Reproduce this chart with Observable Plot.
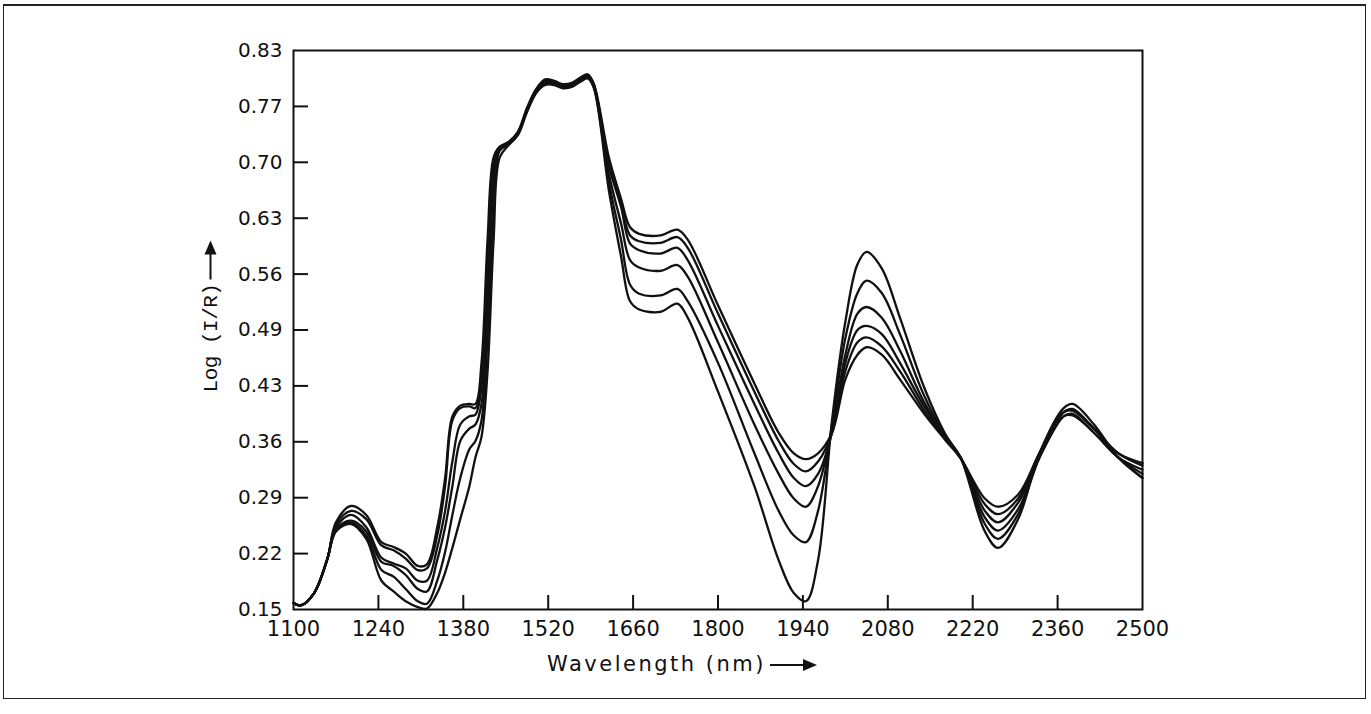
<!DOCTYPE html>
<html><head><meta charset="utf-8">
<script src="https://cdn.jsdelivr.net/npm/d3@7"></script>
<script src="https://cdn.jsdelivr.net/npm/@observablehq/plot@0.6"></script>
<style>
html,body{margin:0;padding:0;background:#fff;}
#wrap{position:relative;width:1371px;height:714px;overflow:hidden;background:#fff;}
#border{position:absolute;left:3px;top:4px;width:1361px;height:692px;border:1.5px solid #222;border-top-width:2.5px;}
#chart{position:absolute;left:0;top:0;}
.lab{position:absolute;color:#111;white-space:nowrap;}
#ylab{left:211px;top:318px;transform:translate(-50%,-50%) rotate(-90deg);font-family:"Liberation Mono",monospace;font-size:21px;letter-spacing:-0.5px;}
#xlab{left:547px;top:664px;transform:translateY(-50%);font-family:"DejaVu Sans",sans-serif;font-size:21px;letter-spacing:2.5px;}
.arrow{display:inline-block;height:2px;background:#111;vertical-align:middle;margin-left:4px;position:relative;}
#ylab .arrow{width:36px;}
#xlab .arrow{width:44px;}
.arrow::after{content:"";position:absolute;right:-3px;top:-5px;border-left:14px solid #111;border-top:6px solid transparent;border-bottom:6px solid transparent;}
</style></head><body>
<div id="wrap">
<div id="border"></div>
<div id="chart"></div>
<div class="lab" id="ylab">Log (I/R)<span class="arrow"></span></div>
<div class="lab" id="xlab">Wavelength (nm)<span class="arrow"></span></div>
</div>
<script>
const xTicks = [1100,1240,1380,1520,1660,1800,1940,2080,2220,2360,2500];
const yTicks = [0.15,0.218,0.286,0.354,0.422,0.49,0.558,0.626,0.694,0.762,0.83];
const yLabels = ["0.15","0.22","0.29","0.36","0.43","0.49","0.56","0.63","0.70","0.77","0.83"];

const wl = [1100,1112,1134,1156,1170,1195,1220,1245,1265,1285,1305,1320,1337,1350,1362,1375,1390,1400,1410,1420,1430,1440,1455,1470,1485,1500,1515,1530,1545,1560,1575,1585,1595,1620,1640,1655,1670,1705,1733,1750,1800,1860,1900,1925,1945,1965,1988,2010,2030,2045,2070,2100,2140,2175,2200,2240,2262,2295,2330,2370,2385,2420,2460,2500];

const s1 = [.158,.155,.170,.212,.256,.276,.265,.232,.226,.218,.203,.205,.250,.310,.385,.398,.400,.400,.450,.600,.700,.713,.719,.731,.760,.783,.795,.793,.789,.791,.798,.801,.790,.700,.650,.615,.607,.605,.612,.600,.520,.425,.365,.340,.333,.340,.365,.430,.460,.469,.460,.430,.388,.356,.334,.285,.275,.290,.340,.390,.394,.370,.340,.325];
const s2 = [.158,.155,.170,.212,.253,.270,.260,.228,.222,.212,.198,.200,.240,.300,.380,.395,.397,.395,.430,.570,.690,.712,.718,.730,.759,.782,.793,.792,.788,.790,.797,.800,.789,.690,.645,.605,.598,.596,.603,.590,.510,.415,.355,.327,.318,.330,.365,.440,.475,.481,.470,.440,.392,.357,.334,.278,.266,.285,.340,.390,.392,.370,.340,.328];
const s3 = [.158,.155,.170,.212,.250,.265,.250,.213,.206,.200,.185,.185,.225,.270,.330,.375,.385,.387,.420,.550,.680,.711,.718,.730,.758,.781,.792,.791,.787,.789,.796,.799,.788,.690,.640,.595,.587,.583,.590,.575,.495,.400,.340,.310,.300,.315,.365,.450,.490,.495,.485,.450,.397,.358,.335,.270,.256,.280,.335,.385,.388,.365,.335,.320];
const s4 = [.158,.155,.170,.212,.248,.258,.245,.208,.203,.192,.175,.172,.210,.250,.300,.355,.370,.375,.400,.520,.660,.710,.717,.729,.757,.780,.791,.790,.786,.788,.795,.798,.787,.680,.620,.575,.566,.562,.569,.555,.475,.375,.315,.285,.275,.300,.370,.460,.510,.518,.505,.465,.402,.359,.335,.262,.246,.272,.335,.385,.386,.365,.335,.315];
const s5 = [.158,.155,.170,.212,.246,.256,.240,.198,.190,.175,.160,.157,.185,.220,.265,.310,.345,.355,.380,.480,.630,.708,.716,.728,.756,.779,.790,.789,.785,.787,.794,.797,.786,.670,.600,.545,.534,.532,.540,.525,.450,.340,.270,.240,.232,.270,.375,.480,.535,.550,.535,.485,.410,.361,.335,.254,.236,.266,.335,.390,.392,.370,.335,.310];
const s6 = [.158,.155,.170,.212,.245,.254,.236,.185,.172,.160,.153,.151,.170,.195,.225,.260,.300,.335,.360,.440,.600,.700,.715,.727,.755,.778,.788,.788,.784,.786,.793,.796,.785,.660,.580,.525,.515,.512,.522,.505,.415,.300,.210,.170,.160,.210,.380,.500,.570,.585,.565,.505,.420,.363,.335,.245,.225,.260,.340,.395,.400,.375,.335,.310];

const series = [s1,s2,s3,s4,s5,s6];
const data = series.flatMap((s,k)=>s.map((v,j)=>({w:wl[j], v, k})));

const chart = Plot.plot({
  width:1371, height:714,
  marginLeft:293, marginRight:229, marginTop:50, marginBottom:105,
  style:{fontFamily:"DejaVu Sans, sans-serif", fontSize:"20px", color:"#111", background:"transparent"},
  x:{domain:[1100,2500]},
  y:{domain:[0.15,0.83]},
  marks:[
    Plot.line(data,{x:"w",y:"v",z:"k",stroke:"#111",strokeWidth:2.3,curve:"catmull-rom"}),
    Plot.frame({stroke:"#111",strokeWidth:2}),
    Plot.tickX(xTicks.slice(1,-1),{x:d=>d,insetTop:545,stroke:"#111",strokeWidth:2}),
    Plot.tickY(yTicks.slice(1,-1),{y:d=>d,insetRight:834,stroke:"#111",strokeWidth:2}),
    Plot.axisX(xTicks,{tickSize:0,tickPadding:12,tickFormat:d=>String(d),fontSize:21,label:null}),
    Plot.axisY(yTicks,{tickSize:0,tickPadding:11,tickFormat:d=>yLabels[yTicks.indexOf(d)],fontSize:20,label:null})
  ]
});
document.getElementById("chart").appendChild(chart);
</script>
</body></html>
